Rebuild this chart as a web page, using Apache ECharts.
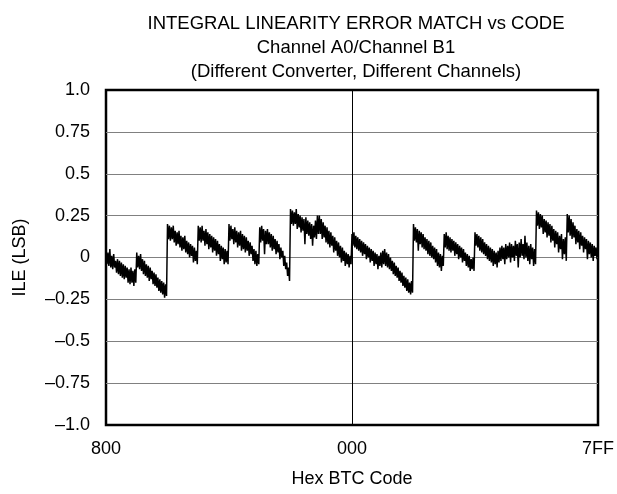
<!DOCTYPE html>
<html>
<head>
<meta charset="utf-8">
<script src="https://cdn.jsdelivr.net/npm/echarts@6/dist/echarts.min.js"></script>
<style>
  html, body { margin: 0; padding: 0; background: #fff; }
  #chart { width: 617px; height: 494px; }
</style>
</head>
<body>
<div id="chart"></div>
<script>
    // 标题
    var titleLines = [
        'INTEGRAL LINEARITY ERROR MATCH vs CODE',
        'Channel A0/Channel B1',
        '(Different Converter, Different Channels)'
    ];
    // x 轴刻度 (code 0 / 2048 / 4096)
    var xTickLabels = ['800', '000', '7FF'];
    var codeStep = 8;   // one sample every 8 codes

    // ILE match values, one per 8 codes
    var seg0 = [0.04,-0.04,0.03,-0.05,0.05,-0.06,0.01,-0.07,0.02,-0.06,-0.02,-0.09,-0.01,-0.10,-0.02,-0.11,
        -0.03,-0.12,-0.04,-0.13,-0.05,-0.12,-0.06,-0.15,-0.07,-0.16,-0.06,-0.15,-0.08,-0.17,-0.07,-0.15];
    var seg1 = [0.03,-0.06,0.01,-0.07,0.02,-0.08,-0.01,-0.10,-0.02,-0.11,-0.04,-0.12,-0.05,-0.14,-0.06,-0.13,
        -0.08,-0.16,-0.09,-0.17,-0.10,-0.18,-0.12,-0.20,-0.13,-0.21,-0.14,-0.22,-0.15,-0.24,-0.16,-0.23];
    var seg2 = [0.20,0.11,0.19,0.10,0.18,0.11,0.19,0.09,0.16,0.07,0.15,0.08,0.16,0.06,0.13,0.04,
        0.12,0.05,0.13,0.03,0.10,0.02,0.09,0.00,0.08,0.01,0.07,-0.03,0.06,-0.02,0.04,-0.04];
    var seg3 = [0.19,0.10,0.18,0.09,0.19,0.10,0.16,0.07,0.17,0.08,0.15,0.05,0.14,0.06,0.13,0.03,
        0.12,0.04,0.11,0.01,0.10,0.02,0.08,-0.02,0.07,-0.01,0.06,-0.04,0.05,-0.03,0.04,-0.04];
    var seg4 = [0.20,0.10,0.19,0.11,0.17,0.08,0.18,0.09,0.16,0.06,0.15,0.07,0.16,0.04,0.14,0.05,
        0.13,0.03,0.12,0.04,0.10,0.01,0.09,0.02,0.07,-0.02,0.05,-0.04,0.04,-0.05,0.02,-0.04];
    var seg5 = [0.18,0.09,0.19,0.10,0.17,0.02,0.16,0.08,0.17,0.08,0.15,0.06,0.14,0.04,0.13,0.05,
        0.11,0.02,0.10,0.03,0.08,-0.01,0.06,0.00,0.04,-0.05,0.01,-0.07,-0.03,-0.11,-0.06,-0.14];
    var seg6 = [0.29,0.20,0.28,0.19,0.27,0.20,0.29,0.17,0.26,0.18,
        0.25,0.15,0.24,0.16,0.23,0.08,0.24,0.14,0.22,0.13,
        0.21,0.11,0.20,0.07,0.19,0.12,0.22,0.11,0.25,0.14,
        0.25,0.14,0.23,0.11,0.21,0.12,0.19,0.09,0.18,0.08,
        0.16,0.06,0.15,0.07,0.13,0.03,0.12,0.04,0.10,0.01,
        0.09,0.00,0.07,-0.03,0.06,-0.02,0.04,-0.05,0.03,-0.04,0.02,-0.06,0.01,-0.04];
    var seg7 = [0.14,0.07,0.15,0.06,0.13,0.05,0.12,0.04,0.11,0.03,0.10,0.01,0.09,0.02,0.08,-0.01,
        0.07,0.00,0.06,-0.03,0.05,-0.02,0.04,-0.05,0.03,-0.04,0.02,-0.07,0.01,-0.05,0.03,-0.06];
    var seg8 = [0.04,-0.04,0.05,-0.05,0.03,-0.06,0.02,-0.07,0.00,-0.08,-0.02,-0.10,-0.03,-0.11,-0.05,-0.12,
        -0.06,-0.14,-0.08,-0.15,-0.09,-0.17,-0.11,-0.18,-0.12,-0.20,-0.13,-0.21,-0.15,-0.22,-0.14,-0.21];
    var seg9 = [0.20,0.10,0.18,0.09,0.17,0.04,0.16,0.08,0.15,0.06,0.14,0.05,0.12,0.04,0.11,0.02,
        0.10,0.01,0.09,0.00,0.07,-0.01,0.06,-0.03,0.05,-0.05,0.03,-0.06,0.02,-0.08,0.01,-0.05];
    var seg10 = [0.14,0.06,0.15,0.05,0.13,0.04,0.12,0.03,0.11,0.04,0.10,0.01,0.09,0.02,0.08,-0.01,
        0.07,0.00,0.06,-0.03,0.05,-0.02,0.03,-0.05,0.02,-0.06,0.01,-0.08,-0.01,-0.07,0.00,-0.08];
    var seg11 = [0.15,0.07,0.14,0.06,0.13,0.04,0.12,0.03,0.11,0.02,0.09,0.01,0.08,-0.01,0.07,-0.02,
        0.06,-0.03,0.05,-0.05,0.04,-0.04,0.03,-0.06,0.04,-0.03,0.06,-0.02,0.07,-0.01,0.06,-0.04,
        0.08,-0.01,0.07,0.00,0.09,-0.03,0.08,0.00,0.07,-0.02,0.10,0.01,0.08,-0.06,0.09,0.00,
        0.11,0.01,0.08,-0.01,0.13,0.00,0.09,-0.02,0.07,-0.04,0.08,-0.01,0.06,-0.05,0.05,-0.04];
    var seg12 = [0.28,0.19,0.27,0.17,0.26,0.18,0.25,0.14,0.23,0.15,0.22,0.12,0.21,0.13,0.20,0.09,
        0.19,0.10,0.17,0.06,0.16,0.08,0.15,0.03,0.13,0.05,0.14,-0.01,0.11,0.02,0.12,-0.02];
    var seg13 = [0.26,0.15,0.25,0.13,0.23,0.11,0.21,0.12,0.19,0.08,0.17,0.09,0.16,0.05,0.15,0.07,
        0.13,0.03,0.12,0.05,0.11,-0.01,0.10,0.02,0.09,0.00,0.08,-0.02,0.07,0.01,0.06,-0.01];

    var ileValues = [].concat(seg0, seg1, seg2, seg3, seg4, seg5, seg6, seg7,
        seg8, seg9, seg10, seg11, seg12, seg13);

    var lineData = ileValues.map(function (v, i) { return [i * codeStep, v]; });

    var myChart = echarts.init(document.getElementById('chart'));
    var font = 'Liberation Sans, Arial, sans-serif';

    var option = {
        animation: false,
        backgroundColor: '#fff',
        title: titleLines.map(function (t, i) {
            return {
                text: t,
                left: 351,
                textAlign: 'center',
                top: 9 + i * 24,
                textStyle: { fontFamily: font, fontSize: 18.5, fontWeight: 'normal', color: '#000' }
            };
        }),
        grid: {
            left: 106, right: 15, top: 90, bottom: 69,
            show: true,
            borderColor: '#000',
            borderWidth: 2.5
        },
        xAxis: {
            type: 'value',
            min: 0,
            max: 4096,
            interval: 2048,
            name: 'Hex BTC Code',
            nameLocation: 'middle',
            nameGap: 45,
            nameTextStyle: { fontFamily: font, fontSize: 18, color: '#000' },
            axisLine: { show: false },
            axisTick: { show: false },
            axisLabel: {
                fontFamily: font, fontSize: 18, color: '#000', margin: 15,
                formatter: function (v) { return xTickLabels[Math.round(v / 2048)]; }
            },
            splitLine: {
                show: true,
                showMinLine: false,
                showMaxLine: false,
                lineStyle: { color: '#000', width: 1 }
            }
        },
        yAxis: {
            type: 'value',
            min: -1,
            max: 1,
            interval: 0.25,
            name: 'ILE (LSB)',
            nameLocation: 'middle',
            nameGap: 77,
            nameTextStyle: { fontFamily: font, fontSize: 18, color: '#000' },
            axisLine: { show: false },
            axisTick: { show: false },
            axisLabel: {
                fontFamily: font, fontSize: 18, color: '#000', margin: 16,
                formatter: function (v) {
                    var s;
                    if (v === 0) s = '0';
                    else if (Math.abs(v) === 1 || Math.abs(v) === 0.5) s = Math.abs(v).toFixed(1);
                    else s = String(Math.abs(v));
                    return (v < 0 ? '\u2013' : '') + s;
                }
            },
            splitLine: {
                show: true,
                showMinLine: false,
                showMaxLine: false,
                lineStyle: { color: '#808080', width: 1 }
            }
        },
        series: [
            {
                name: 'ILE',
                type: 'line',
                data: lineData,
                showSymbol: false,
                symbol: 'none',
                lineStyle: { color: '#000', width: 1.5 },
                z: 3
            }
        ]
    };
    myChart.setOption(option);
</script>
</body>
</html>
